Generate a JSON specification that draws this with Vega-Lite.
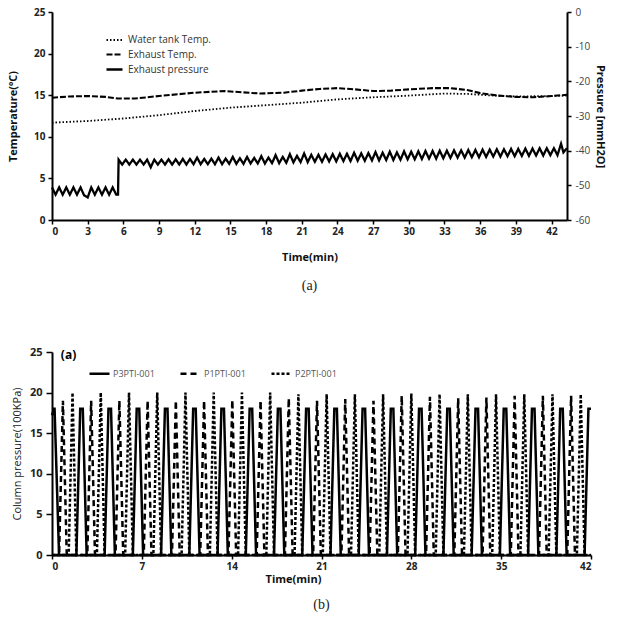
{
"$schema": "https://vega.github.io/schema/vega-lite/v6.json",
"padding": {"left": 7, "top": 7, "right": 5, "bottom": 0},
"config": {
  "view": {"stroke": null},
  "font": "Open Sans",
  "axis": {"grid": false, "domainColor": "#000", "domainWidth": 2, "tickColor": "#000", "tickWidth": 1.5, "tickSize": 4, "labelPadding": 2, "labelOverlap": false,
    "labelFont": "Open Sans", "labelFontWeight": "bold", "labelFontSize": 10, "labelColor": "#222",
    "titleFont": "Open Sans", "titleFontWeight": "bold", "titleFontSize": 11, "titleColor": "#111"},
  "legend": {"padding": 0, "labelFont": "Open Sans", "symbolStrokeColor": "#000", "symbolType": "stroke"}
},
"datasets": {
  "wt": [{"t":0,"v":11.7},{"t":3,"v":11.9},{"t":6,"v":12.2},{"t":9,"v":12.6},{"t":12,"v":13.1},{"t":15,"v":13.5},{"t":18,"v":13.8},{"t":21,"v":14.1},{"t":24,"v":14.5},{"t":27,"v":14.75},{"t":30,"v":14.95},{"t":33,"v":15.2},{"t":35,"v":15.15},{"t":36.5,"v":15.0},{"t":39,"v":14.85},{"t":42,"v":14.9},{"t":43.3,"v":14.95}],
  "et": [{"t":0,"v":14.7},{"t":1.5,"v":14.85},{"t":3,"v":14.9},{"t":4.5,"v":14.8},{"t":5.5,"v":14.6},{"t":7,"v":14.6},{"t":9,"v":14.9},{"t":12,"v":15.3},{"t":14.5,"v":15.5},{"t":16,"v":15.35},{"t":17.5,"v":15.2},{"t":19.5,"v":15.3},{"t":21,"v":15.55},{"t":22.5,"v":15.75},{"t":24,"v":15.85},{"t":25.5,"v":15.7},{"t":27,"v":15.5},{"t":28.5,"v":15.55},{"t":30,"v":15.7},{"t":32,"v":15.85},{"t":33.5,"v":15.85},{"t":35,"v":15.6},{"t":36,"v":15.25},{"t":37.5,"v":14.95},{"t":39,"v":14.8},{"t":40.5,"v":14.75},{"t":42,"v":14.9},{"t":43.3,"v":15.05}],
  "ep": [{"t":0,"v":-50.6},{"t":0.3,"v":-52.7},{"t":0.6,"v":-50.6},{"t":0.9,"v":-52.7},{"t":1.2,"v":-50.6},{"t":1.5,"v":-52.7},{"t":1.8,"v":-50.6},{"t":2.1,"v":-52.7},{"t":2.4,"v":-50.6},{"t":2.7,"v":-52.9},{"t":3.0,"v":-53.5},{"t":3.3,"v":-50.6},{"t":3.6,"v":-52.7},{"t":3.9,"v":-50.6},{"t":4.2,"v":-52.7},{"t":4.5,"v":-50.6},{"t":4.8,"v":-52.7},{"t":5.1,"v":-50.6},{"t":5.4,"v":-52.7},{"t":5.55,"v":-52.7},{"t":5.6,"v":-42.6},
    {"t":5.9,"v":-44.0},{"t":6.2,"v":-42.6},{"t":6.5,"v":-44.0},{"t":6.8,"v":-42.6},{"t":7.1,"v":-44.0},{"t":7.4,"v":-42.6},{"t":7.7,"v":-44.0},{"t":8.0,"v":-42.6},{"t":8.3,"v":-44.8},{"t":8.6,"v":-42.6},{"t":8.9,"v":-44.0},{"t":9.2,"v":-42.6},{"t":9.5,"v":-44.0},{"t":9.8,"v":-42.5},{"t":10.1,"v":-44.0},{"t":10.4,"v":-42.5},{"t":10.7,"v":-44.0},{"t":11.0,"v":-42.4},{"t":11.3,"v":-44.0},{"t":11.6,"v":-42.4},{"t":11.9,"v":-43.9},{"t":12.2,"v":-42.0},{"t":12.5,"v":-43.9},{"t":12.8,"v":-42.4},{"t":13.1,"v":-43.9},{"t":13.4,"v":-42.3},{"t":13.7,"v":-43.9},{"t":14.0,"v":-42.0},{"t":14.3,"v":-43.9},{"t":14.6,"v":-42.3},{"t":14.9,"v":-43.8},{"t":15.2,"v":-41.8},{"t":15.5,"v":-43.8},{"t":15.8,"v":-42.2},{"t":16.1,"v":-43.8},{"t":16.4,"v":-41.8},{"t":16.7,"v":-43.7},{"t":17.0,"v":-42.1},{"t":17.3,"v":-43.7},{"t":17.6,"v":-41.6},{"t":17.9,"v":-43.7},{"t":18.2,"v":-42.0},{"t":18.5,"v":-43.6},{"t":18.8,"v":-41.3},{"t":19.1,"v":-43.6},{"t":19.4,"v":-41.8},{"t":19.7,"v":-43.5},{"t":20.0,"v":-41.0},{"t":20.3,"v":-43.4},{"t":20.6,"v":-41.5},{"t":20.9,"v":-43.3},{"t":21.2,"v":-40.8},{"t":21.5,"v":-43.3},{"t":21.8,"v":-41.2},{"t":22.1,"v":-43.2},{"t":22.4,"v":-41.2},{"t":22.7,"v":-43.2},{"t":23.0,"v":-41.1},{"t":23.3,"v":-43.1},{"t":23.6,"v":-41.0},{"t":23.9,"v":-43.1},{"t":24.2,"v":-40.9},{"t":24.5,"v":-43.0},{"t":24.8,"v":-40.9},{"t":25.1,"v":-43.0},{"t":25.4,"v":-40.6},{"t":25.7,"v":-42.9},{"t":26.0,"v":-40.8},{"t":26.3,"v":-42.9},{"t":26.6,"v":-40.7},{"t":26.9,"v":-42.8},{"t":27.2,"v":-40.4},{"t":27.5,"v":-42.8},{"t":27.8,"v":-40.6},{"t":28.1,"v":-42.7},{"t":28.4,"v":-40.3},{"t":28.7,"v":-42.7},{"t":29.0,"v":-40.5},{"t":29.3,"v":-42.6},{"t":29.6,"v":-40.2},{"t":29.9,"v":-42.5},{"t":30.2,"v":-40.3},{"t":30.5,"v":-42.5},{"t":30.8,"v":-40.2},{"t":31.1,"v":-42.4},{"t":31.4,"v":-40.1},{"t":31.7,"v":-42.3},{"t":32.0,"v":-40.1},{"t":32.3,"v":-42.3},{"t":32.6,"v":-40.0},{"t":32.9,"v":-42.2},{"t":33.2,"v":-40.0},{"t":33.5,"v":-42.1},{"t":33.8,"v":-39.9},{"t":34.1,"v":-42.0},{"t":34.4,"v":-39.9},{"t":34.7,"v":-42.0},{"t":35.0,"v":-39.8},{"t":35.3,"v":-41.9},{"t":35.6,"v":-39.8},{"t":35.9,"v":-41.9},{"t":36.2,"v":-39.7},{"t":36.5,"v":-41.8},{"t":36.8,"v":-39.7},{"t":37.1,"v":-41.7},{"t":37.4,"v":-39.6},{"t":37.7,"v":-41.7},{"t":38.0,"v":-39.6},{"t":38.3,"v":-41.6},{"t":38.6,"v":-39.5},{"t":38.9,"v":-41.6},{"t":39.2,"v":-39.5},{"t":39.5,"v":-41.5},{"t":39.8,"v":-39.4},{"t":40.1,"v":-41.5},{"t":40.4,"v":-39.4},{"t":40.7,"v":-41.4},{"t":41.0,"v":-39.3},{"t":41.3,"v":-41.4},{"t":41.6,"v":-39.3},{"t":41.9,"v":-41.3},{"t":42.2,"v":-39.3},{"t":42.5,"v":-41.3},{"t":42.8,"v":-38.0},{"t":43.0,"v":-40.5},{"t":43.3,"v":-39.3}],
  "p3": [{"t":0,"v":17.2},{"t":0.15,"v":18},{"t":0.2,"v":18},{"t":0.55,"v":0},
    {"t":1.9,"v":0},{"t":2.2,"v":18},{"t":2.4,"v":18},{"t":2.7,"v":0},
    {"t":4.1,"v":0},{"t":4.4,"v":18},{"t":4.6,"v":18},{"t":4.9,"v":0},
    {"t":6.3,"v":0},{"t":6.6,"v":18},{"t":6.8,"v":18},{"t":7.1,"v":0},
    {"t":8.5,"v":0},{"t":8.8,"v":18},{"t":9.0,"v":18},{"t":9.3,"v":0},
    {"t":10.7,"v":0},{"t":11.0,"v":18},{"t":11.2,"v":18},{"t":11.5,"v":0},
    {"t":12.9,"v":0},{"t":13.2,"v":18},{"t":13.4,"v":18},{"t":13.7,"v":0},
    {"t":15.1,"v":0},{"t":15.4,"v":18},{"t":15.6,"v":18},{"t":15.9,"v":0},
    {"t":17.3,"v":0},{"t":17.6,"v":18},{"t":17.8,"v":18},{"t":18.1,"v":0},
    {"t":19.5,"v":0},{"t":19.8,"v":18},{"t":20.0,"v":18},{"t":20.3,"v":0},
    {"t":21.7,"v":0},{"t":22.0,"v":18},{"t":22.2,"v":18},{"t":22.5,"v":0},
    {"t":23.9,"v":0},{"t":24.2,"v":18},{"t":24.4,"v":18},{"t":24.7,"v":0},
    {"t":26.1,"v":0},{"t":26.4,"v":18},{"t":26.6,"v":18},{"t":26.9,"v":0},
    {"t":28.3,"v":0},{"t":28.6,"v":18},{"t":28.8,"v":18},{"t":29.1,"v":0},
    {"t":30.5,"v":0},{"t":30.8,"v":18},{"t":31.0,"v":18},{"t":31.3,"v":0},
    {"t":32.7,"v":0},{"t":33.0,"v":18},{"t":33.2,"v":18},{"t":33.5,"v":0},
    {"t":34.9,"v":0},{"t":35.2,"v":18},{"t":35.4,"v":18},{"t":35.7,"v":0},
    {"t":37.1,"v":0},{"t":37.4,"v":18},{"t":37.6,"v":18},{"t":37.9,"v":0},
    {"t":39.3,"v":0},{"t":39.6,"v":18},{"t":39.8,"v":18},{"t":40.1,"v":0},
    {"t":41.5,"v":0},{"t":41.8,"v":18},{"t":42.0,"v":18}],
  "p1": [{"t":0,"v":0},
    {"t":0.55,"v":0},{"t":0.85,"v":19},{"t":1.15,"v":0},
    {"t":2.75,"v":0},{"t":3.05,"v":19},{"t":3.35,"v":0},
    {"t":4.95,"v":0},{"t":5.25,"v":19},{"t":5.55,"v":0},
    {"t":7.15,"v":0},{"t":7.45,"v":19},{"t":7.75,"v":0},
    {"t":9.35,"v":0},{"t":9.65,"v":19},{"t":9.95,"v":0},
    {"t":11.55,"v":0},{"t":11.85,"v":19},{"t":12.15,"v":0},
    {"t":13.75,"v":0},{"t":14.05,"v":19.1},{"t":14.35,"v":0},
    {"t":15.95,"v":0},{"t":16.25,"v":19},{"t":16.55,"v":0},
    {"t":18.15,"v":0},{"t":18.45,"v":19.3},{"t":18.75,"v":0},
    {"t":20.35,"v":0},{"t":20.65,"v":19},{"t":20.95,"v":0},
    {"t":22.55,"v":0},{"t":22.85,"v":19.2},{"t":23.15,"v":0},
    {"t":24.75,"v":0},{"t":25.05,"v":19},{"t":25.35,"v":0},
    {"t":26.95,"v":0},{"t":27.25,"v":19.6},{"t":27.55,"v":0},
    {"t":29.15,"v":0},{"t":29.45,"v":19.5},{"t":29.75,"v":0},
    {"t":31.35,"v":0},{"t":31.65,"v":19.3},{"t":31.95,"v":0},
    {"t":33.55,"v":0},{"t":33.85,"v":19.4},{"t":34.15,"v":0},
    {"t":35.75,"v":0},{"t":36.05,"v":19.6},{"t":36.35,"v":0},
    {"t":37.95,"v":0},{"t":38.25,"v":19.6},{"t":38.55,"v":0},
    {"t":40.15,"v":0},{"t":40.45,"v":19.6},{"t":40.75,"v":0}],
  "p2": [{"t":0,"v":0},
    {"t":1.3,"v":0},{"t":1.6,"v":20},{"t":1.9,"v":0},
    {"t":3.5,"v":0},{"t":3.8,"v":20},{"t":4.1,"v":0},
    {"t":5.7,"v":0},{"t":6.0,"v":20},{"t":6.3,"v":0},
    {"t":7.9,"v":0},{"t":8.2,"v":20},{"t":8.5,"v":0},
    {"t":10.1,"v":0},{"t":10.4,"v":20},{"t":10.7,"v":0},
    {"t":12.3,"v":0},{"t":12.6,"v":20},{"t":12.9,"v":0},
    {"t":14.5,"v":0},{"t":14.8,"v":20},{"t":15.1,"v":0},
    {"t":16.7,"v":0},{"t":17.0,"v":20},{"t":17.3,"v":0},
    {"t":18.9,"v":0},{"t":19.2,"v":19.8},{"t":19.5,"v":0},
    {"t":21.1,"v":0},{"t":21.4,"v":19.8},{"t":21.7,"v":0},
    {"t":23.3,"v":0},{"t":23.6,"v":19.8},{"t":23.9,"v":0},
    {"t":25.5,"v":0},{"t":25.8,"v":19.8},{"t":26.1,"v":0},
    {"t":27.7,"v":0},{"t":28.0,"v":19.9},{"t":28.3,"v":0},
    {"t":29.9,"v":0},{"t":30.2,"v":19.8},{"t":30.5,"v":0},
    {"t":32.1,"v":0},{"t":32.4,"v":19.8},{"t":32.7,"v":0},
    {"t":34.3,"v":0},{"t":34.6,"v":19.8},{"t":34.9,"v":0},
    {"t":36.5,"v":0},{"t":36.8,"v":19.8},{"t":37.1,"v":0},
    {"t":38.7,"v":0},{"t":39.0,"v":19.8},{"t":39.3,"v":0},
    {"t":40.9,"v":0},{"t":41.2,"v":19.8},{"t":41.5,"v":0},{"t":42,"v":0}],
  "lab": [{"t":1.29,"v":24.6,"label":"(a)"}]
},
"concat": [
  {
    "width": 515, "height": 208,
    "title": {"text": "(a)", "orient": "bottom", "font": "Liberation Serif", "fontSize": 14, "fontWeight": "normal", "color": "#222", "offset": 17},
    "encoding": {
      "x": {"field": "t", "type": "quantitative", "scale": {"domain": [0, 43.3], "nice": false},
            "axis": {"values": [0,3,6,9,12,15,18,21,24,27,30,33,36,39,42], "labelOverlap": false, "title": "Time(min)", "titlePadding": 15, "labelPadding": 2}}
    },
    "layer": [
      {
        "layer": [
          {"data": {"name": "wt"}, "mark": {"type": "line"},
           "encoding": {
             "y": {"field": "v", "type": "quantitative", "scale": {"domain": [0, 25], "nice": false},
                   "axis": {"orient": "left", "values": [0,5,10,15,20,25], "title": "Temperature(ºC)", "titlePadding": 15, "labelPadding": 3}},
             "strokeDash": {"datum": "Water tank Temp.", "type": "nominal",
               "scale": {"domain": ["Water tank Temp.", "Exhaust Temp.", "Exhaust pressure"], "range": [[1.5, 2], [6, 2], [1, 0]]},
               "legend": {"orient": "none", "direction": "vertical", "legendX": 53, "legendY": 19, "title": null, "symbolSize": 256, "labelFontSize": 10, "labelColor": "#333", "labelOffset": 4, "rowPadding": 0}},
             "strokeWidth": {"datum": "Water tank Temp.", "type": "nominal",
               "scale": {"domain": ["Water tank Temp.", "Exhaust Temp.", "Exhaust pressure"], "range": [1.8, 2.3, 2.8]},
               "legend": {"orient": "none", "direction": "vertical", "legendX": 53, "legendY": 19, "title": null, "symbolSize": 256, "labelFontSize": 10, "labelColor": "#333", "labelOffset": 4, "rowPadding": 0}},
             "color": {"value": "#000"}
           }},
          {"data": {"name": "et"}, "mark": {"type": "line"},
           "encoding": {
             "y": {"field": "v", "type": "quantitative"},
             "strokeDash": {"datum": "Exhaust Temp.", "type": "nominal"},
             "strokeWidth": {"datum": "Exhaust Temp.", "type": "nominal"},
             "color": {"value": "#000"}
           }}
        ]
      },
      {"data": {"name": "ep"}, "mark": {"type": "line"},
       "encoding": {
         "y": {"field": "v", "type": "quantitative", "scale": {"domain": [-60, 0], "nice": false},
               "axis": {"orient": "right", "values": [-60,-50,-40,-30,-20,-10,0], "labelExpr": "replace(datum.label, '\u2212', '-')", "title": "Pressure [mmH2O]", "titlePadding": 5, "labelPadding": 4, "labelFontWeight": "normal", "labelColor": "#444"}},
         "strokeDash": {"datum": "Exhaust pressure", "type": "nominal"},
         "strokeWidth": {"datum": "Exhaust pressure", "type": "nominal"},
         "color": {"value": "#000"}
       }}
    ],
    "resolve": {"scale": {"y": "independent"}}
  },
  {
    "width": 539, "height": 203,
    "title": {"text": "(b)", "orient": "bottom", "font": "Liberation Serif", "fontSize": 14, "fontWeight": "normal", "color": "#222", "offset": 14},
    "encoding": {
      "x": {"field": "t", "type": "quantitative", "scale": {"domain": [0, 42], "nice": false},
            "axis": {"values": [0,7,14,21,28,35,42], "title": "Time(min)", "titlePadding": 2, "titleX": 241, "tickSize": 4, "labelPadding": 2}},
      "y": {"field": "v", "type": "quantitative", "scale": {"domain": [0, 25], "nice": false},
            "axis": {"values": [0,5,10,15,20,25], "title": "Column pressure(100KPa)", "titleFontWeight": "normal", "titleColor": "#222", "titlePadding": 7, "tickSize": 6, "labelPadding": 4, "labelFontSize": 11}}
    },
    "layer": [
      {"data": {"name": "p3"}, "mark": {"type": "line"},
       "encoding": {
         "strokeDash": {"datum": "P3PTI-001", "type": "nominal",
           "scale": {"domain": ["P3PTI-001", "P1PTI-001", "P2PTI-001"], "range": [[1, 0], [6, 4], [3, 2]]},
           "legend": {"orient": "none", "direction": "horizontal", "legendX": 36, "legendY": 10, "title": null, "symbolSize": 400, "labelFontSize": 9, "labelColor": "#555", "labelOffset": 2, "columnPadding": 20}},
         "strokeWidth": {"datum": "P3PTI-001", "type": "nominal",
           "scale": {"domain": ["P3PTI-001", "P1PTI-001", "P2PTI-001"], "range": [2.5, 2.5, 2.5]},
           "legend": {"orient": "none", "direction": "horizontal", "legendX": 36, "legendY": 10, "title": null, "symbolSize": 400, "labelFontSize": 9, "labelColor": "#555", "labelOffset": 2, "columnPadding": 20}},
         "color": {"value": "#000"}
       }},
      {"data": {"name": "p1"}, "mark": {"type": "line"},
       "encoding": {
         "strokeDash": {"datum": "P1PTI-001", "type": "nominal"},
         "strokeWidth": {"datum": "P1PTI-001", "type": "nominal"},
         "color": {"value": "#000"}
       }},
      {"data": {"name": "p2"}, "mark": {"type": "line"},
       "encoding": {
         "strokeDash": {"datum": "P2PTI-001", "type": "nominal"},
         "strokeWidth": {"datum": "P2PTI-001", "type": "nominal"},
         "color": {"value": "#000"}
       }},
      {"data": {"name": "lab"}, "mark": {"type": "text", "font": "Open Sans", "fontWeight": "bold", "fontSize": 12, "color": "#000", "align": "center", "baseline": "middle"},
       "encoding": {
         "text": {"field": "label"}
       }}
    ]
  }
],
"columns": 1,
"align": "none",
"spacing": 53,
"resolve": {"scale": {"strokeDash": "independent", "strokeWidth": "independent"}, "legend": {"strokeDash": "independent", "strokeWidth": "independent"}}
}
